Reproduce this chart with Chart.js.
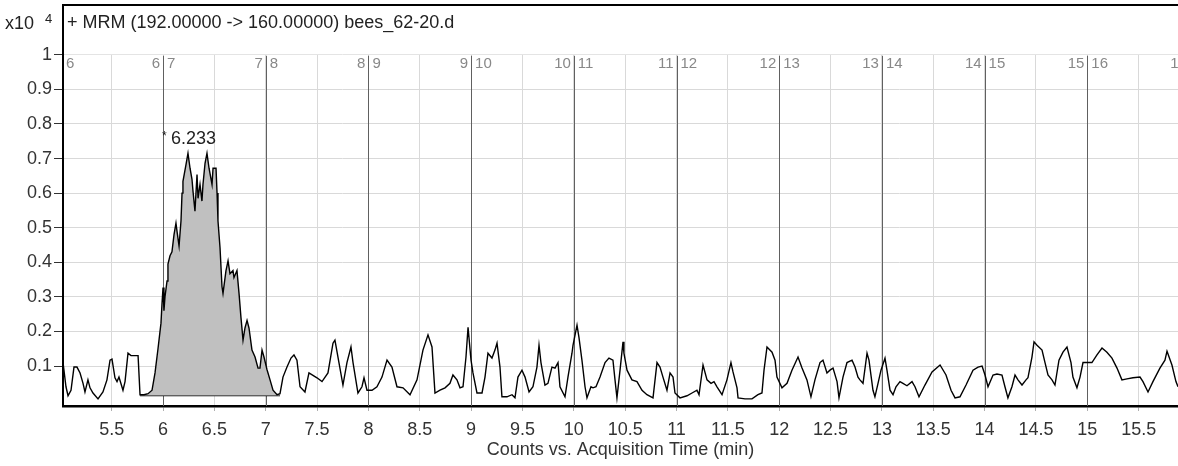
<!DOCTYPE html>
<html lang="en">
<head>
<meta charset="UTF-8">
<title>MRM bees_62-20.d</title>
<script src="https://cdn.jsdelivr.net/npm/chart.js"></script>
<style>
  body { margin: 0; background: #fff; }
  #wrap { width: 1178px; height: 466px; position: relative; }
</style>
</head>
<body>
<div id="wrap"><canvas id="myChart"></canvas></div>
<script>
// acquisition time (min)
const rt = [
  5.026, 5.055, 5.075, 5.104, 5.133, 5.162, 5.192, 5.221, 5.240, 5.269,
  5.289, 5.318, 5.367, 5.415, 5.454, 5.484, 5.503, 5.532, 5.552, 5.571,
  5.610, 5.630, 5.659, 5.688, 5.708, 5.757, 5.776, 5.815, 5.854, 5.893,
  5.922, 5.951, 5.980, 5.990, 6.000, 6.009, 6.019, 6.039, 6.048, 6.068,
  6.087, 6.107, 6.126, 6.136, 6.156, 6.175, 6.185, 6.194, 6.224, 6.243,
  6.263, 6.282, 6.292, 6.311, 6.331, 6.341, 6.360, 6.379, 6.389, 6.409,
  6.428, 6.448, 6.477, 6.487, 6.516, 6.526, 6.535, 6.555, 6.574, 6.584,
  6.613, 6.633, 6.652, 6.681, 6.691, 6.720, 6.740, 6.759, 6.779, 6.798,
  6.818, 6.837, 6.866, 6.896, 6.925, 6.944, 6.964, 6.983, 7.012, 7.042,
  7.071, 7.110, 7.139, 7.168, 7.207, 7.246, 7.275, 7.304, 7.334, 7.382,
  7.421, 7.499, 7.548, 7.606, 7.655, 7.674, 7.713, 7.752, 7.791, 7.830,
  7.850, 7.898, 7.937, 7.957, 7.986, 8.035, 8.083, 8.132, 8.181, 8.229,
  8.278, 8.337, 8.405, 8.473, 8.531, 8.580, 8.619, 8.648, 8.697, 8.746,
  8.794, 8.823, 8.862, 8.892, 8.921, 8.950, 8.970, 8.999, 9.018, 9.057,
  9.106, 9.135, 9.164, 9.203, 9.232, 9.252, 9.281, 9.300, 9.349, 9.398,
  9.427, 9.456, 9.495, 9.525, 9.564, 9.602, 9.641, 9.661, 9.680, 9.719,
  9.748, 9.787, 9.817, 9.846, 9.865, 9.914, 9.943, 9.982, 9.992, 10.031,
  10.050, 10.079, 10.109, 10.128, 10.167, 10.187, 10.216, 10.255, 10.304, 10.342,
  10.381, 10.401, 10.420, 10.450, 10.479, 10.488, 10.518, 10.566, 10.615, 10.664,
  10.712, 10.771, 10.810, 10.839, 10.868, 10.907, 10.937, 10.966, 10.985, 11.034,
  11.102, 11.151, 11.199, 11.219, 11.258, 11.297, 11.336, 11.365, 11.394, 11.443,
  11.491, 11.530, 11.550, 11.589, 11.599, 11.667, 11.735, 11.793, 11.832, 11.852,
  11.881, 11.930, 11.959, 11.978, 12.027, 12.076, 12.124, 12.183, 12.222, 12.270,
  12.309, 12.348, 12.397, 12.426, 12.465, 12.494, 12.524, 12.563, 12.582, 12.621,
  12.660, 12.709, 12.738, 12.767, 12.786, 12.816, 12.855, 12.874, 12.913, 12.932,
  12.962, 12.991, 13.030, 13.049, 13.079, 13.108, 13.137, 13.176, 13.205, 13.244,
  13.293, 13.322, 13.361, 13.419, 13.488, 13.566, 13.624, 13.673, 13.712, 13.760,
  13.819, 13.887, 13.936, 13.975, 14.004, 14.033, 14.082, 14.120, 14.169, 14.198,
  14.227, 14.266, 14.296, 14.325, 14.364, 14.403, 14.422, 14.461, 14.481, 14.510,
  14.559, 14.588, 14.617, 14.656, 14.685, 14.724, 14.763, 14.802, 14.841, 14.860,
  14.899, 14.929, 14.958, 14.987, 15.045, 15.094, 15.143, 15.191, 15.240, 15.289,
  15.337, 15.386, 15.445, 15.513, 15.542, 15.591, 15.639, 15.707, 15.756, 15.776,
  15.824, 15.863, 15.883
];
// counts, x10^4
const counts = [
  0.111, 0.040, 0.014, 0.030, 0.097, 0.097, 0.080, 0.050, 0.025, 0.060,
  0.037, 0.022, 0.005, 0.025, 0.060, 0.117, 0.120, 0.066, 0.055, 0.068,
  0.030, 0.055, 0.137, 0.130, 0.130, 0.130, 0.017, 0.017, 0.020, 0.030,
  0.080, 0.150, 0.224, 0.280, 0.327, 0.260, 0.300, 0.346, 0.395, 0.419,
  0.430, 0.480, 0.513, 0.490, 0.447, 0.520, 0.600, 0.634, 0.683, 0.715,
  0.672, 0.640, 0.605, 0.548, 0.654, 0.585, 0.625, 0.577, 0.625, 0.686,
  0.715, 0.672, 0.625, 0.672, 0.672, 0.600, 0.520, 0.442, 0.330, 0.310,
  0.376, 0.404, 0.367, 0.376, 0.356, 0.376, 0.310, 0.240, 0.175, 0.210,
  0.232, 0.210, 0.146, 0.126, 0.094, 0.094, 0.146, 0.126, 0.090, 0.060,
  0.030, 0.017, 0.020, 0.068, 0.097, 0.123, 0.132, 0.117, 0.040, 0.025,
  0.080, 0.066, 0.055, 0.080, 0.166, 0.175, 0.110, 0.045, 0.110, 0.155,
  0.110, 0.022, 0.040, 0.066, 0.030, 0.030, 0.040, 0.068, 0.117, 0.097,
  0.040, 0.037, 0.017, 0.060, 0.146, 0.190, 0.155, 0.022, 0.030, 0.037,
  0.050, 0.074, 0.060, 0.037, 0.040, 0.126, 0.212, 0.117, 0.080, 0.022,
  0.022, 0.068, 0.137, 0.123, 0.146, 0.166, 0.097, 0.011, 0.011, 0.017,
  0.008, 0.068, 0.088, 0.068, 0.025, 0.040, 0.097, 0.160, 0.110, 0.045,
  0.050, 0.097, 0.094, 0.110, 0.040, 0.011, 0.068, 0.137, 0.160, 0.218,
  0.183, 0.117, 0.040, 0.008, 0.040, 0.037, 0.040, 0.068, 0.110, 0.123,
  0.117, 0.060, 0.008, 0.088, 0.170, 0.137, 0.088, 0.060, 0.055, 0.030,
  0.017, 0.008, 0.110, 0.097, 0.068, 0.030, 0.080, 0.068, 0.022, 0.008,
  0.014, 0.022, 0.030, 0.017, 0.103, 0.060, 0.050, 0.055, 0.040, 0.017,
  0.060, 0.110, 0.083, 0.037, 0.008, 0.005, 0.005, 0.017, 0.022, 0.088,
  0.155, 0.140, 0.117, 0.068, 0.037, 0.050, 0.088, 0.126, 0.094, 0.060,
  0.011, 0.060, 0.110, 0.117, 0.080, 0.088, 0.094, 0.055, 0.008, 0.068,
  0.110, 0.117, 0.097, 0.068, 0.060, 0.050, 0.137, 0.117, 0.030, 0.011,
  0.050, 0.088, 0.123, 0.088, 0.030, 0.017, 0.040, 0.055, 0.050, 0.043,
  0.055, 0.040, 0.011, 0.045, 0.083, 0.103, 0.074, 0.030, 0.008, 0.011,
  0.045, 0.088, 0.097, 0.100, 0.074, 0.040, 0.074, 0.077, 0.074, 0.040,
  0.008, 0.040, 0.074, 0.060, 0.045, 0.060, 0.066, 0.126, 0.170, 0.160,
  0.146, 0.110, 0.074, 0.060, 0.045, 0.117, 0.140, 0.155, 0.110, 0.068,
  0.037, 0.068, 0.110, 0.110, 0.110, 0.132, 0.152, 0.140, 0.123, 0.094,
  0.060, 0.063, 0.066, 0.068, 0.055, 0.025, 0.055, 0.094, 0.117, 0.143,
  0.103, 0.055, 0.040
];

const xTicks = [5.5, 6, 6.5, 7, 7.5, 8, 8.5, 9, 9.5, 10, 10.5, 11, 11.5, 12, 12.5, 13, 13.5, 14, 14.5, 15, 15.5];
const yTicks = [0.1, 0.2, 0.3, 0.4, 0.5, 0.6, 0.7, 0.8, 0.9, 1];
const yTickLabels = ['0.1', '0.2', '0.3', '0.4', '0.5', '0.6', '0.7', '0.8', '0.9', '1'];
const segmentBounds = [6, 7, 8, 9, 10, 11, 12, 13, 14, 15, 16];

// integrated peak
const peakStart = 5.776;
const peakEnd = 7.139;
const peakBaseline = 0.015;
const peakRT = 6.233;

const xMin = 5.026, xMax = 15.883;
const yMin = -0.0156, yMax = 1.144;

const chartTitle = '+ MRM (192.00000 -> 160.00000) bees_62-20.d';
const xTitle = 'Counts vs. Acquisition Time (min)';
const FONT = "'Liberation Sans', Arial, sans-serif";

const trace = rt.map((t, i) => ({ x: t, y: counts[i] }));
const peak = trace.filter(p => p.x >= peakStart && p.x <= peakEnd);
const baseline = [{ x: peakStart, y: peakBaseline }, { x: peakEnd, y: peakBaseline }];
const apex = Math.max(...peak.map(p => p.y));

const mshPlugin = {
  id: 'msh',
  beforeDatasetsDraw(chart) {
    const { ctx, chartArea: a, scales: { x, y } } = chart;
    const yTop = y.getPixelForValue(1);
    ctx.save();
    // header strip above the 1.0 line
    ctx.fillStyle = '#fff';
    ctx.fillRect(a.left + 1.5, a.top, a.right - a.left, yTop - a.top - 0.5);

    // dark segment lines
    ctx.strokeStyle = '#606060';
    ctx.lineWidth = 1;
    segmentBounds.forEach(b => {
      const px = Math.round(x.getPixelForValue(b)) + 0.5;
      if (px < a.right) {
        ctx.beginPath();
        ctx.moveTo(px, yTop + 1);
        ctx.lineTo(px, a.bottom);
        ctx.stroke();
      }
    });
    ctx.fillStyle = '#888';
    ctx.font = '15px ' + FONT;
    ctx.textBaseline = 'top';
    ctx.textAlign = 'left';
    ctx.fillText(String(segmentBounds[0]), a.left + 3, yTop + 2);
    segmentBounds.forEach(b => {
      const px = x.getPixelForValue(b);
      ctx.textAlign = 'right';
      ctx.fillText(String(b), px - 3, yTop + 2);
      ctx.textAlign = 'left';
      ctx.fillText(String(b + 1), px + 4, yTop + 2);
    });

    // top border
    ctx.strokeStyle = '#000';
    ctx.lineWidth = 2;
    ctx.beginPath();
    ctx.moveTo(a.left, a.top);
    ctx.lineTo(a.right, a.top);
    ctx.stroke();

    // title + exponent
    ctx.fillStyle = '#222';
    ctx.textBaseline = 'middle';
    ctx.textAlign = 'left';
    ctx.font = '18px ' + FONT;
    ctx.fillText(chartTitle, a.left + 4, 23);
    ctx.fillText('x10', 5, 24);
    ctx.font = '13px ' + FONT;
    ctx.fillText('4', 45, 19);
    ctx.restore();
  },
  afterDatasetsDraw(chart) {
    const { ctx, scales: { x, y } } = chart;
    const px = x.getPixelForValue(peakRT);
    const py = y.getPixelForValue(apex) - 14;
    ctx.save();
    ctx.fillStyle = '#222';
    ctx.textBaseline = 'middle';
    ctx.textAlign = 'left';
    ctx.font = '12px ' + FONT;
    ctx.fillText('*', px - 25, py - 3);
    ctx.font = '18px ' + FONT;
    ctx.fillText(peakRT.toFixed(3), px - 16, py);
    ctx.restore();
  }
};

const ctx = document.getElementById('myChart').getContext('2d');
const myChart = new Chart(ctx, {
  type: 'line',
  data: {
    datasets: [
      { data: trace, borderColor: '#000', borderWidth: 1.4, pointRadius: 0, fill: false },
      { data: peak, borderColor: 'rgba(0,0,0,0)', borderWidth: 0, backgroundColor: '#c0c0c0', pointRadius: 0, fill: { value: peakBaseline } },
      { data: baseline, borderColor: '#000', borderWidth: 1.6, pointRadius: 0, fill: false }
    ]
  },
  options: {
    responsive: true,
    maintainAspectRatio: false,
    animation: false,
    layout: { padding: { top: 5, right: 0, left: 0, bottom: 0 } },
    elements: { line: { tension: 0 } },
    plugins: { legend: { display: false }, tooltip: { enabled: false } },
    scales: {
      x: {
        type: 'linear',
        min: xMin,
        max: xMax,
        afterBuildTicks: s => { s.ticks = xTicks.map(v => ({ value: v })); },
        afterFit: s => { s.height = 60; s.paddingLeft = 0; s.paddingRight = 0; },
        grid: { color: '#d9d9d9', tickLength: 5, tickColor: '#b0b0b0' },
        border: { color: '#000', width: 2.5 },
        ticks: {
          color: '#333', padding: 8, maxRotation: 0, autoSkip: false,
          font: { size: 18, family: FONT },
          callback: v => String(v)
        },
        title: {
          display: true, text: xTitle, color: '#333',
          font: { size: 18, family: FONT },
          padding: { top: 0, bottom: 5 }
        }
      },
      y: {
        min: yMin,
        max: yMax,
        afterBuildTicks: s => { s.ticks = yTicks.map(v => ({ value: v })); },
        afterFit: s => { s.width = 63; s.paddingTop = 0; s.paddingBottom = 0; },
        grid: { color: '#d9d9d9', tickLength: 9, tickColor: '#333' },
        border: { color: '#000', width: 2 },
        ticks: {
          color: '#333', padding: 2,
          font: { size: 18, family: FONT },
          callback: v => yTickLabels[yTicks.findIndex(t => Math.abs(t - v) < 1e-9)]
        }
      }
    }
  },
  plugins: [mshPlugin]
});
</script>
</body>
</html>
